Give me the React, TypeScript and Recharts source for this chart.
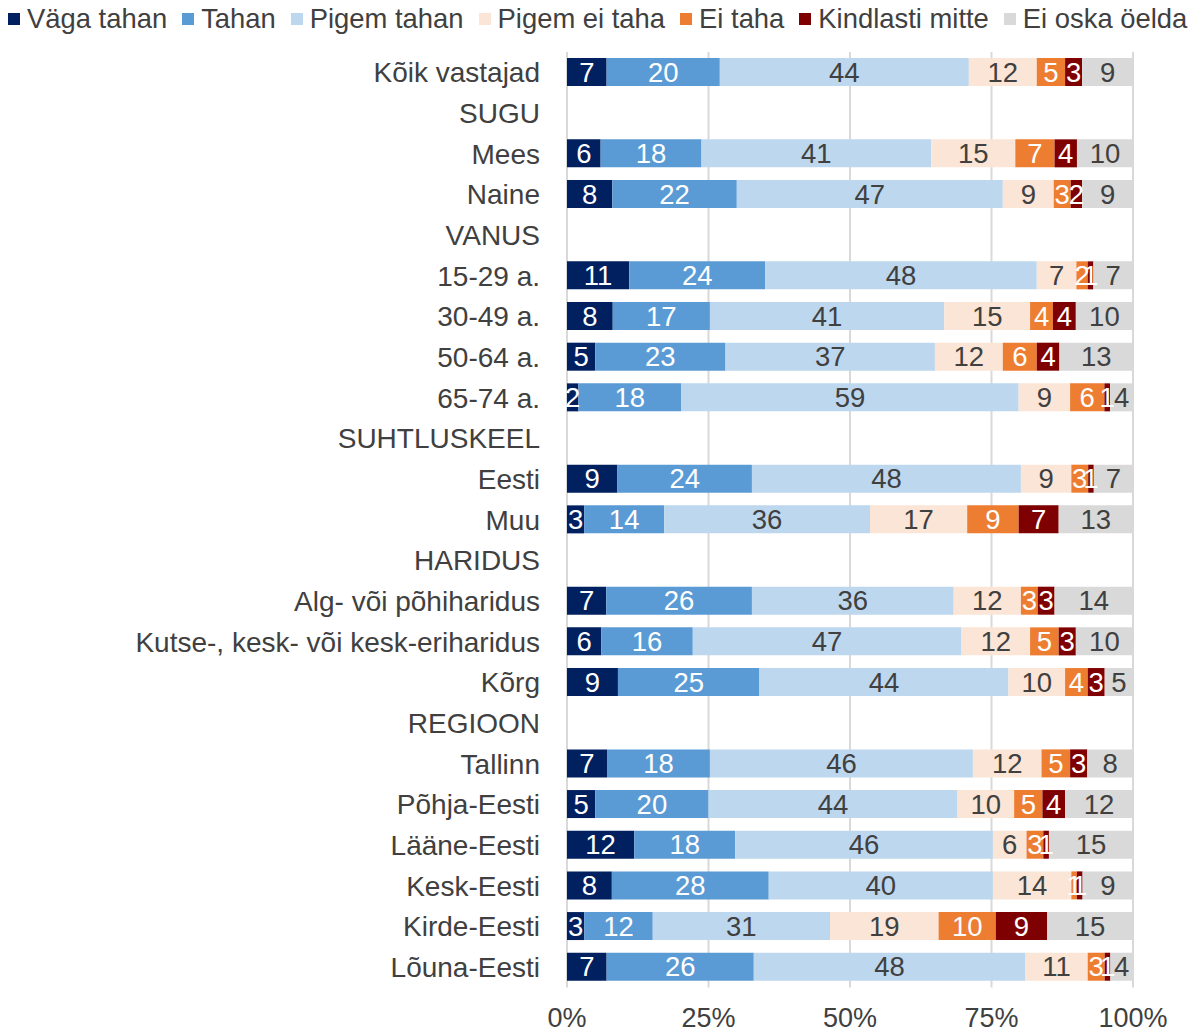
import { Bar, BarChart, CartesianGrid, LabelList, XAxis, YAxis } from 'recharts';

const categories = [
  'Kõik vastajad', 'SUGU', 'Mees', 'Naine', 'VANUS', '15-29 a.', '30-49 a.', '50-64 a.', '65-74 a.',
  'SUHTLUSKEEL', 'Eesti', 'Muu', 'HARIDUS', 'Alg- või põhiharidus', 'Kutse-, kesk- või kesk-eriharidus', 'Kõrg',
  'REGIOON', 'Tallinn', 'Põhja-Eesti', 'Lääne-Eesti', 'Kesk-Eesti', 'Kirde-Eesti', 'Lõuna-Eesti',
];

const vagaTahan = [7, null, 6, 8, null, 11, 8, 5, 2, null, 9, 3, null, 7, 6, 9, null, 7, 5, 12, 8, 3, 7];
const tahan = [20, null, 18, 22, null, 24, 17, 23, 18, null, 24, 14, null, 26, 16, 25, null, 18, 20, 18, 28, 12, 26];
const pigemTahan = [44, null, 41, 47, null, 48, 41, 37, 59, null, 48, 36, null, 36, 47, 44, null, 46, 44, 46, 40, 31, 48];
const pigemEiTaha = [12, null, 15, 9, null, 7, 15, 12, 9, null, 9, 17, null, 12, 12, 10, null, 12, 10, 6, 14, 19, 11];
const eiTaha = [5, null, 7, 3, null, 2, 4, 6, 6, null, 3, 9, null, 3, 5, 4, null, 5, 5, 3, 1, 10, 3];
const kindlastiMitte = [3, null, 4, 2, null, 1, 4, 4, 1, null, 1, 7, null, 3, 3, 3, null, 3, 4, 1, 1, 9, 1];
const eiOska = [9, null, 10, 9, null, 7, 10, 13, 4, null, 7, 13, null, 14, 10, 5, null, 8, 12, 15, 9, 15, 4];

const xTicks = [0, 0.25, 0.5, 0.75, 1];

const series = [
  { key: 'vaga', name: 'Väga tahan', values: vagaTahan, color: '#002060', text: '#ffffff' },
  { key: 'tahan', name: 'Tahan', values: tahan, color: '#5b9bd5', text: '#ffffff' },
  { key: 'pigemTahan', name: 'Pigem tahan', values: pigemTahan, color: '#bdd7ee', text: '#404040' },
  { key: 'pigemEi', name: 'Pigem ei taha', values: pigemEiTaha, color: '#fbe5d6', text: '#404040' },
  { key: 'eiTaha', name: 'Ei taha', values: eiTaha, color: '#ed7d31', text: '#ffffff' },
  { key: 'kindlasti', name: 'Kindlasti mitte', values: kindlastiMitte, color: '#7f0000', text: '#ffffff' },
  { key: 'eiOska', name: 'Ei oska öelda', values: eiOska, color: '#d9d9d9', text: '#404040' },
];

const data = categories.map((cat, i) => {
  const row: Record<string, any> = { cat };
  series.forEach((s) => {
    row[s.key] = s.values[i];
  });
  return row;
});

const FONT = '"Liberation Sans", Arial, sans-serif';

export default function App() {
  return (
    <div style={{ position: 'absolute', left: 0, top: 0, width: 1200, height: 1032, fontFamily: FONT, background: '#fff' }}>
      <div style={{ position: 'absolute', left: 8, top: 0, height: 38, display: 'flex', alignItems: 'center', whiteSpace: 'nowrap' }}>
        {series.map((s, i) => (
          <div key={s.key} style={{ display: 'flex', alignItems: 'center', marginRight: i < series.length - 1 ? 15 : 0 }}>
            <span style={{ display: 'inline-block', width: 12, height: 12, background: s.color, marginRight: 7 }} />
            <span style={{ fontSize: 27.4, color: '#404040' }}>{s.name}</span>
          </div>
        ))}
      </div>
      <BarChart
        width={1200}
        height={1032}
        data={data}
        layout="vertical"
        stackOffset="expand"
        barSize={28}
        margin={{ top: 52, right: 67, bottom: 0, left: 0 }}
      >
        <CartesianGrid horizontal={false} stroke="#d9d9d9" strokeWidth={2} />
        <XAxis
          type="number"
          domain={[0, 1]}
          ticks={xTicks}
          tickFormatter={(v) => `${Math.round(v * 100)}%`}
          axisLine={false}
          tickLine={false}
          tickSize={0}
          tickMargin={20}
          height={44.6}
          tick={{ fontSize: 27, fill: '#404040', fontFamily: FONT }}
        />
        <YAxis
          type="category"
          dataKey="cat"
          width={567}
          axisLine={false}
          tickLine={false}
          tickSize={0}
          tickMargin={27}
          interval={0}
          tick={{ fontSize: 28, fill: '#404040', fontFamily: FONT }}
        />
        {series.map((s) => (
          <Bar key={s.key} dataKey={s.key} name={s.name} stackId="a" fill={s.color} isAnimationActive={false}>
            <LabelList
              dataKey={s.key}
              position="center"
              fill={s.text}
              fontSize={27.5}
              fontFamily={FONT}
              formatter={(v: any) => (v == null || v === 0 ? '' : v)}
            />
          </Bar>
        ))}
      </BarChart>
    </div>
  );
}
